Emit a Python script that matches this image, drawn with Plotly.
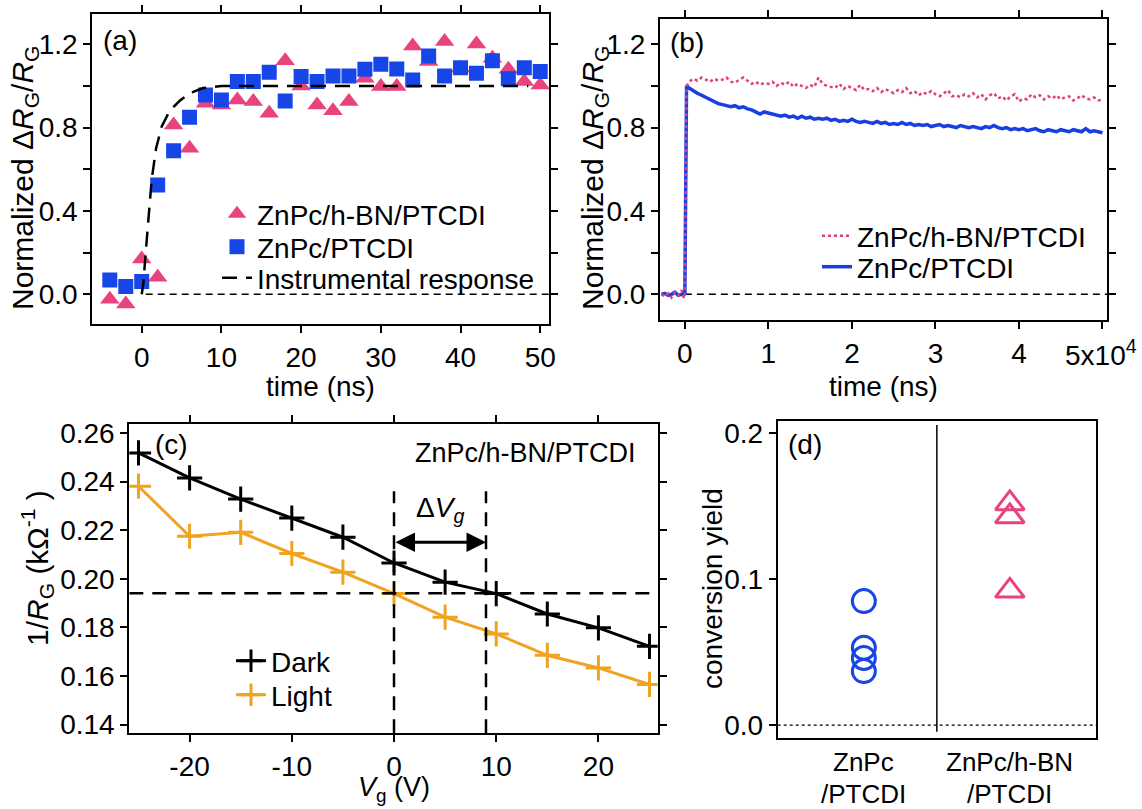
import plotly.graph_objects as go

FONT = "Liberation Sans, Arial, sans-serif"
W, H = 1142, 809

PINK = "#E8427F"
PINK_LINE = "#E0407A"
BLUE = "#1646E8"
BLUE_LINE = "#1A3FE0"
ORANGE = "#F0A31E"

# ---------------- (a) data ----------------
t_a = [-4, -2, 0, 2, 4, 6, 8, 10, 12, 14, 16, 18, 20, 22, 24, 26, 28, 30,
       32, 34, 36, 38, 40, 42, 44, 46, 48, 50]
a_hbn = [-0.024, -0.047, 0.17, 0.082, 0.813, 0.701, 0.917, 0.909, 0.933, 0.925,
         0.869, 1.121, 1.0, 0.909, 0.881, 0.925, 1.037, 0.997, 0.997, 1.192,
         1.117, 1.213, 1.085, 1.202, 1.133, 1.08, 1.021, 1.005]
a_pt = [0.069, 0.037, 0.061, 0.525, 0.689, 0.85, 0.957, 0.933, 1.021, 1.021,
        1.066, 0.928, 1.045, 1.021, 1.048, 1.048, 1.08, 1.104, 1.082, 1.029,
        1.144, 1.048, 1.088, 1.061, 1.121, 1.035, 1.088, 1.069]
t_irf = [0, 0.2, 0.5, 0.85, 1.25, 1.8, 2.5, 3.5, 4.8, 6, 7.7, 10, 48.5]
irf = [0, 0.05, 0.2, 0.36, 0.55, 0.7, 0.805, 0.88, 0.93, 0.965, 0.99, 1.0, 1.0]

# ---------------- (b) data ----------------
t_b_pre = [-2800, -2400, -2000, -1600, -1200, -800, -400, -100, 0, 200]
b_hbn_pre = [0.0, -0.01, 0.005, -0.015, 0.01, -0.005, 0.02, -0.02, 0.0, 1.0]
b_pt_pre = [0.0, 0.005, -0.005, 0.0, 0.01, -0.005, 0.0, 0.005, 0.0, 1.0]
t_b_main = list(range(500, 50001, 500))
b_hbn_main = [
    1.02, 1.035, 1.025, 1.04, 1.03, 1.02, 1.035, 1.025, 1.03, 1.04,
    1.02, 1.015, 1.03, 1.04, 1.025, 1.01, 1.02, 1.005, 1.015, 1.01,
    1.02, 1.0, 1.015, 1.005, 1.02, 0.995, 1.01, 1.0, 0.99, 1.005,
    0.995, 1.04, 1.01, 1.0, 0.995, 0.99, 1.01, 0.985, 1.0, 0.99,
    0.98, 1.005, 0.98, 0.985, 0.975, 0.99, 0.97, 0.985, 0.975, 0.965,
    0.98, 0.97, 0.99, 0.965, 0.975, 0.955, 0.97, 0.96, 0.975, 0.96,
    0.95, 0.965, 0.98, 0.95, 0.955, 0.945, 0.96, 0.95, 0.965, 0.945,
    0.96, 0.935, 0.955, 0.965, 0.94, 0.95, 0.93, 0.95, 0.96, 0.925,
    0.94, 0.935, 0.96, 0.945, 0.955, 0.935, 0.95, 0.94, 0.955, 0.935,
    0.945, 0.95, 0.93, 0.94, 0.955, 0.94, 0.935, 0.945, 0.93, 0.935]
b_pt_main = [
    0.99, 0.975, 0.965, 0.955, 0.945, 0.935, 0.925, 0.915, 0.91, 0.905,
    0.9, 0.905, 0.895, 0.9, 0.89, 0.885, 0.875, 0.865, 0.875, 0.87,
    0.865, 0.86, 0.855, 0.86, 0.85, 0.855, 0.845, 0.855, 0.845, 0.85,
    0.84, 0.845, 0.84, 0.845, 0.835, 0.84, 0.83, 0.835, 0.83, 0.84,
    0.83, 0.825, 0.83, 0.825, 0.82, 0.83, 0.82, 0.825, 0.815, 0.82,
    0.815, 0.825, 0.815, 0.82, 0.81, 0.815, 0.81, 0.815, 0.805, 0.81,
    0.815, 0.805, 0.81, 0.805, 0.8, 0.81, 0.805, 0.8, 0.805, 0.8,
    0.795, 0.805, 0.8, 0.81, 0.8, 0.795, 0.8, 0.79, 0.795, 0.79,
    0.795, 0.785, 0.79, 0.795, 0.785, 0.78, 0.79, 0.785, 0.78, 0.79,
    0.785, 0.78, 0.79, 0.785, 0.78, 0.795, 0.78, 0.785, 0.78, 0.775]
t_b = t_b_pre + t_b_main
b_hbn = b_hbn_pre + b_hbn_main
b_pt = b_pt_pre + b_pt_main

# ---------------- (c) data ----------------
vg = [-25, -20, -15, -10, -5, 0, 5, 10, 15, 20, 25]
dark = [0.2518, 0.2415, 0.2328, 0.225, 0.2171, 0.2065, 0.1986, 0.1939, 0.1855, 0.1798, 0.1722]
light = [0.2381, 0.2175, 0.2191, 0.2104, 0.2027, 0.1939, 0.1842, 0.1773, 0.1685, 0.1633, 0.1565]
ref_level = 0.194
dv_bounds = [0, 9]
dv_arrow_y = 0.215

# ---------------- (d) data ----------------
cat_line1 = ["ZnPc", "ZnPc/h-BN"]
cat_line2 = ["/PTCDI", "/PTCDI"]
yield_pt = [0.085, 0.053, 0.046, 0.037]
yield_hbn = [0.152, 0.143, 0.092]

# ---------------- ranges ----------------
xr_a, yr_a = [-6.2, 51.1], [-0.144, 1.344]
xr_b, yr_b = [-2978, 50578], [-0.123, 1.321]
xr_c, yr_c = [-25.9, 25.8], [0.1364, 0.2637]
xr_d, yr_d = [-0.59, 1.59], [-0.0091, 0.2087]


def px(x):
    return x / W


def py(y):
    return 1 - y / H


def dom_x(a, b):
    return [px(a), px(b)]


def dom_y(top, bottom):
    return [py(bottom), py(top)]


fig = go.Figure()

# (a)
fig.add_trace(go.Scatter(x=t_a, y=a_hbn, mode="markers", name="ZnPc/h-BN/PTCDI",
                         marker=dict(symbol="triangle-up", size=17, color=PINK),
                         xaxis="x", yaxis="y", legend="legend"))
fig.add_trace(go.Scatter(x=t_a, y=a_pt, mode="markers", name="ZnPc/PTCDI",
                         marker=dict(symbol="square", size=15, color=BLUE),
                         xaxis="x", yaxis="y", legend="legend2"))
fig.add_trace(go.Scatter(x=t_irf, y=irf, mode="lines", name="Instrumental response",
                         line=dict(color="black", width=2.5, dash="15px,9px"),
                         xaxis="x", yaxis="y", legend="legend3"))

# (b)
fig.add_trace(go.Scatter(x=t_b, y=b_pt, mode="lines", name="ZnPc/PTCDI",
                         line=dict(color=BLUE_LINE, width=3.5),
                         xaxis="x2", yaxis="y2", legend="legend5"))
fig.add_trace(go.Scatter(x=t_b, y=b_hbn, mode="lines", name="ZnPc/h-BN/PTCDI",
                         line=dict(color=PINK_LINE, width=2.5, dash="dot"),
                         xaxis="x2", yaxis="y2", legend="legend4"))

# (c)
fig.add_trace(go.Scatter(x=vg, y=dark, mode="lines+markers", name="Dark",
                         line=dict(color="black", width=3),
                         marker=dict(symbol="cross-thin", size=18,
                                     line=dict(color="black", width=3)),
                         xaxis="x3", yaxis="y3", legend="legend6"))
fig.add_trace(go.Scatter(x=vg, y=light, mode="lines+markers", name="Light",
                         line=dict(color=ORANGE, width=3),
                         marker=dict(symbol="cross-thin", size=18,
                                     line=dict(color=ORANGE, width=3)),
                         xaxis="x3", yaxis="y3", legend="legend7"))

# (d)
fig.add_trace(go.Scatter(x=[0] * len(yield_pt), y=yield_pt, mode="markers",
                         marker=dict(symbol="circle-open", size=23,
                                     line=dict(color=BLUE, width=3), color=BLUE),
                         xaxis="x4", yaxis="y4", showlegend=False))
fig.add_trace(go.Scatter(x=[1] * len(yield_hbn), y=yield_hbn, mode="markers",
                         marker=dict(symbol="triangle-up-open", size=25,
                                     line=dict(color=PINK, width=3), color=PINK),
                         xaxis="x4", yaxis="y4", showlegend=False))

tickfont = dict(family=FONT, size=28, color="black")


def axis(domain, rng, anchor, mirror="ticks", **kw):
    d = dict(domain=domain, range=rng, anchor=anchor, showline=True, linewidth=2,
             linecolor="black", mirror=mirror, ticks="outside", ticklen=7,
             tickwidth=2, tickcolor="black", showgrid=False, zeroline=False,
             tickfont=tickfont, automargin=False)
    d.update(kw)
    return d


ya_vals = [0, 0.2, 0.4, 0.6, 0.8, 1.0, 1.2]
ya_text = ["0.0", "", "0.4", "", "0.8", "", "1.2"]


def leg(x_text, y_center, size=28):
    return dict(x=px(x_text - 40), y=py(y_center), xanchor="left", yanchor="middle",
                bgcolor="rgba(0,0,0,0)", borderwidth=0,
                font=dict(family=FONT, size=size, color="black"))


fig.update_layout(
    width=W, height=H, margin=dict(l=0, r=0, t=0, b=0),
    paper_bgcolor="white", plot_bgcolor="white",
    font=dict(family=FONT, size=28, color="black"),
    xaxis=axis(dom_x(92.3, 549), xr_a, "y", tickvals=[0, 10, 20, 30, 40, 50]),
    yaxis=axis(dom_y(14.3, 324.3), yr_a, "x", tickvals=ya_vals, ticktext=ya_text),
    xaxis2=axis(dom_x(660, 1107.3), xr_b, "y2",
                tickvals=[0, 10000, 20000, 30000, 40000, 50000],
                ticktext=["0", "1", "2", "3", "4", ""]),
    yaxis2=axis(dom_y(19, 320), yr_b, "x2", tickvals=ya_vals, ticktext=ya_text),
    xaxis3=axis(dom_x(129.3, 657.7), xr_c, "y3", tickvals=[-20, -10, 0, 10, 20],
                ticktext=["-20", "-10", "0", "10", "20"]),
    yaxis3=axis(dom_y(424, 733.3), yr_c, "x3",
                tickvals=[0.14, 0.16, 0.18, 0.20, 0.22, 0.24, 0.26],
                ticktext=["0.14", "0.16", "0.18", "0.20", "0.22", "0.24", "0.26"]),
    xaxis4=axis(dom_x(777.7, 1096), xr_d, "y4", mirror=True, ticks="",
                showticklabels=False),
    yaxis4=axis(dom_y(420.7, 738.3), yr_d, "x4", mirror=True,
                tickvals=[0, 0.1, 0.2], ticktext=["0.0", "0.1", "0.2"]),
    legend=leg(257, 214),
    legend2=leg(257, 247),
    legend3=leg(257, 278),
    legend4=leg(857, 236),
    legend5=leg(857, 267),
    legend6=leg(271, 661),
    legend7=leg(271, 695),
)

shapes = [
    # zero lines
    dict(type="line", xref="x", yref="y", x0=0.5, x1=xr_a[1], y0=0, y1=0,
         line=dict(color="black", width=1.5, dash="7px,5px"), layer="below"),
    dict(type="line", xref="x2", yref="y2", x0=0, x1=xr_b[1], y0=0, y1=0,
         line=dict(color="black", width=1.5, dash="7px,5px"), layer="below"),
    dict(type="line", xref="x4", yref="y4", x0=xr_d[0], x1=xr_d[1], y0=0, y1=0,
         line=dict(color="black", width=1.2, dash="dot")),
    # divider in (d)
    dict(type="line", xref="x4", yref="y4", x0=0.5, x1=0.5, y0=-0.0046, y1=0.2057,
         line=dict(color="black", width=1.5)),
    # (c) reference lines
    dict(type="line", xref="x3", yref="y3", x0=xr_c[0], x1=xr_c[1],
         y0=ref_level, y1=ref_level, line=dict(color="black", width=2.5, dash="14px,9px")),
]
for xv in dv_bounds:
    shapes.append(dict(type="line", xref="x3", yref="y3", x0=xv, x1=xv,
                       y0=yr_c[0], y1=0.236,
                       line=dict(color="black", width=2.5, dash="14px,9px")))
fig.update_layout(shapes=shapes)

ann = []


def txt(x, y, text, size=28, angle=0, xanchor="center", yanchor="middle"):
    ann.append(dict(xref="paper", yref="paper", x=px(x), y=py(y), text=text,
                    showarrow=False, textangle=angle, xanchor=xanchor,
                    yanchor=yanchor, font=dict(family=FONT, size=size, color="black")))


ytitle_ab = "Normalized Δ<i>R</i><sub>G</sub>/<i>R</i><sub>G</sub>"
txt(24, 178, ytitle_ab, size=30, angle=-90)
txt(594, 178, ytitle_ab, size=30, angle=-90)
txt(320.6, 386, "time (ns)")
txt(883.6, 386, "time (ns)")
txt(1101, 353, "5x10<sup>4</sup>")
txt(37, 568, "1/<i>R</i><sub>G</sub> (kΩ<sup>-1</sup> )", size=30, angle=-90)
txt(393.5, 789, "<i>V</i><sub>g</sub> (V)", size=27)
txt(712, 589, "conversion yield", angle=-90)
txt(120, 41, "(a)")
txt(687, 43, "(b)")
txt(172, 445, "(c)")
txt(805, 445, "(d)")
txt(638, 453, "ZnPc/h-BN/PTCDI", size=27, xanchor="right")

# (d) category labels
for i in range(len(cat_line1)):
    ann.append(dict(xref="x4", yref="paper", x=i, y=py(762), text=cat_line1[i],
                    showarrow=False, yanchor="middle",
                    font=dict(family=FONT, size=26, color="black")))
    ann.append(dict(xref="x4", yref="paper", x=i, y=py(794), text=cat_line2[i],
                    showarrow=False, yanchor="middle",
                    font=dict(family=FONT, size=26, color="black")))

# ΔVg label and double arrow
ann.append(dict(xref="x3", yref="y3", x=(dv_bounds[0] + dv_bounds[1]) / 2, y=0.2285,
                text="Δ<i>V<sub>g</sub></i>", showarrow=False,
                font=dict(family=FONT, size=28, color="black")))
ann.append(dict(xref="x3", yref="y3", x=dv_bounds[1], y=dv_arrow_y,
                ax=dv_bounds[0], ay=dv_arrow_y, axref="x3", ayref="y3",
                text="", showarrow=True, arrowhead=2, arrowside="end+start",
                arrowsize=1.3, arrowwidth=3, arrowcolor="black"))
fig.update_layout(annotations=ann)

fig.write_html("out.html")
